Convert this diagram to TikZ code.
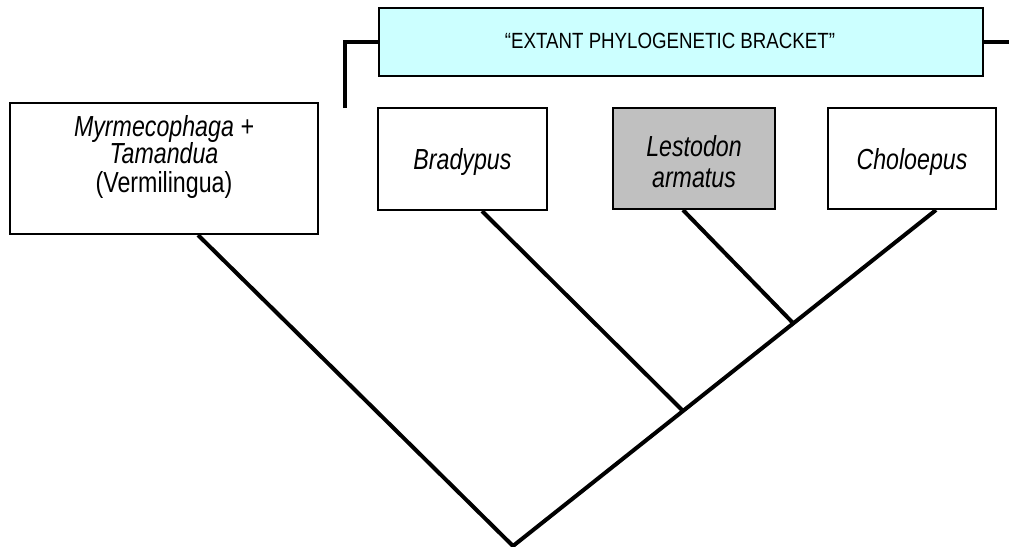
\documentclass[tikz,border=0pt]{standalone}
\usepackage{fontspec}
\setmainfont{Liberation Sans}[FakeStretch=0.8]
\newfontfamily\bracketfont{Liberation Sans}[FakeStretch=0.85]
\definecolor{bracketcyan}{HTML}{CCFFFF}
\definecolor{fossilgray}{HTML}{C0C0C0}
\tikzset{
  taxon/.style={draw=black, line width=2pt, fill=white, inner sep=0pt},
  taxontext/.style={align=center, inner sep=0pt, font=\fontsize{29}{29}\selectfont},
  branch/.style={black, line width=4pt},
}

\begin{document}
\begin{tikzpicture}[x=1pt,y=-1pt]
\useasboundingbox (0,0) rectangle (1009,546);
\node [taxon, minimum width=308pt, minimum height=131pt, label={[name=vermtext, taxontext, font=\fontsize{29}{28}\selectfont, yshift=12pt]center:\textit{Myrmecophaga +}\\\textit{Tamandua}\\(Vermilingua)}] (verm) at (164,168.5) {};
\node [taxon, minimum width=169pt, minimum height=102pt, label={[name=bradytext, taxontext, yshift=-2.5pt]center:\textit{Bradypus}}] (brady) at (462.5,159) {};
\node [taxon, fill=fossilgray, minimum width=162pt, minimum height=101pt, label={[name=lestotext, taxontext, font=\fontsize{29}{31}\selectfont, yshift=-3pt]center:\textit{Lestodon}\\\textit{armatus}}] (lesto) at (694,158.5) {};
\node [taxon, minimum width=168pt, minimum height=101pt, label={[name=cholotext, taxontext, yshift=-3pt]center:\textit{Choloepus}}] (cholo) at (912,158.5) {};
\node [taxon, fill=bracketcyan, minimum width=604pt, minimum height=68pt, label={[name=ebtext, inner sep=0pt, font=\bracketfont\fontsize{22}{24}\selectfont, xshift=-11pt, yshift=1pt]center:“EXTANT PHYLOGENETIC BRACKET”}] (ebracket) at (681,42) {};
\coordinate (root) at (513,546);
\coordinate (j1) at (682,410);
\coordinate (j2) at (793,323);
\coordinate (ebfoot) at (345,108);
\coordinate (ebend) at (1009,42);
\draw [branch] ([xshift=34pt]verm.south) -- (root) -- ([xshift=24pt]cholo.south);
\draw [branch] ([xshift=19.5pt]brady.south) -- (j1);
\draw [branch] ([xshift=-11pt]lesto.south) -- (j2);
\draw [branch] (ebfoot) |- (ebracket.west);
\draw [branch] (ebracket.east) -- (ebend);
\end{tikzpicture}
\end{document}
